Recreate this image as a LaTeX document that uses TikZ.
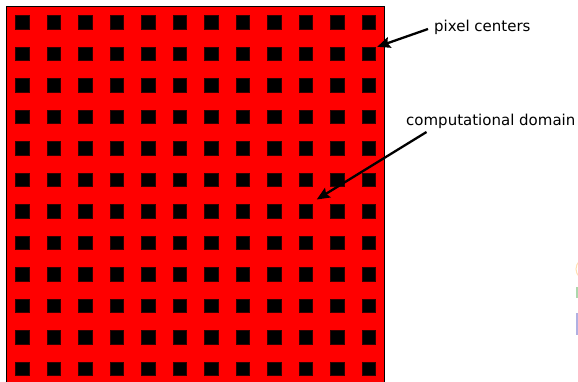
\documentclass[tikz,border=0pt]{standalone}
\usepackage{fontspec}
\setmainfont{DejaVu Sans}
\usetikzlibrary{arrows.meta}
\definecolor{domred}{RGB}{255,0,0}
\definecolor{faintorange}{RGB}{255,222,175}
\definecolor{faintgreen}{RGB}{172,215,172}
\definecolor{faintblue}{RGB}{176,176,226}
\tikzset{
  pixsq/.style={fill=black, draw=black!80!red, line width=0.3pt, minimum size=13.4pt, inner sep=0pt, outer sep=0pt},
  lbl/.style={font=\fontsize{15pt}{18pt}\selectfont, inner sep=0pt, anchor=base west},
  pointer/.style={line width=2.3pt, -{Stealth[length=13pt,width=11pt,inset=2pt]}}
}
\begin{document}
\begin{tikzpicture}[x=1pt,y=-1pt]
\useasboundingbox (0,0) rectangle (578,381);
\begin{scope}
\clip (0,0) rectangle (578,381);
\node[draw=black, line width=0.8pt, fill=domred, minimum width=378pt, minimum height=378pt, inner sep=0pt, anchor=north west] (domain) at (6.25,6.25) {};
\foreach \i in {0,...,11}{
  \foreach \j in {0,...,11}{
    \node[pixsq] (p-\i-\j) at ({22+31.5*\i},{22+31.5*\j}) {};
  }
}
% faint cut-off elements at right edge
\draw[faintorange, line width=1pt] (587,269) circle (11);
\fill[faintgreen] (575.5,287) rectangle (579,298);
\fill[faintblue] (575.5,313) rectangle (579,335);
\end{scope}
\node[lbl] (pc) at (434,31) {pixel centers};
\node[lbl] (cd) at (406,125) {computational domain};
\coordinate (pctail) at (428,29);
\coordinate (cdtail) at (426.5,132);
\coordinate (cdtip) at (316.7,199.5);
\draw[pointer] (pctail) -- ([xshift=2pt]p-11-1.north east);
\draw[pointer] (cdtail) -- (cdtip);
\end{tikzpicture}
\end{document}
